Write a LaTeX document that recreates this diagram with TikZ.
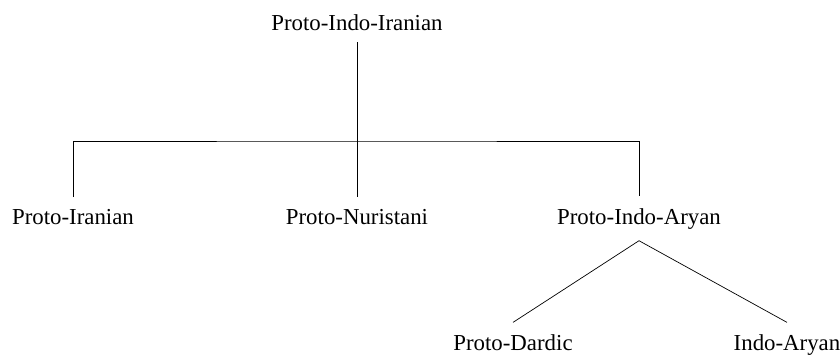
\documentclass[tikz,border=0pt]{standalone}
\usepackage{fontspec}
\setmainfont{Liberation Serif}
\usepackage{tikz}

\tikzset{lang/.style={inner sep=6.5pt,anchor=base,font=\fontsize{13}{15}\selectfont}}

\begin{document}
\begin{tikzpicture}[scale=1]

\useasboundingbox (0,0) rectangle (16.8,-7.12);

\node[lang] (pii) at (7.14,-0.6) {Proto-Indo-Iranian};

\coordinate (j) at (7.14,-2.82);

\node[lang] (pir) at (1.46,-4.48) {Proto-Iranian};
\node[lang] (pnu) at (7.14,-4.48) {Proto-Nuristani};
\node[lang] (pia) at (12.78,-4.48) {Proto-Indo-Aryan};

\draw (pii)--(j);
\draw (pir) |- (j) -| (pia);
\draw (j)--(pnu);

\node[lang] (pda) at (10.26,-7.0) {Proto-Dardic};
\node[lang] (iar) at (15.74,-7.0) {Indo-Aryan};

\draw (pda.north)--(pia.south)--(iar.north);

\end{tikzpicture}
\end{document}
